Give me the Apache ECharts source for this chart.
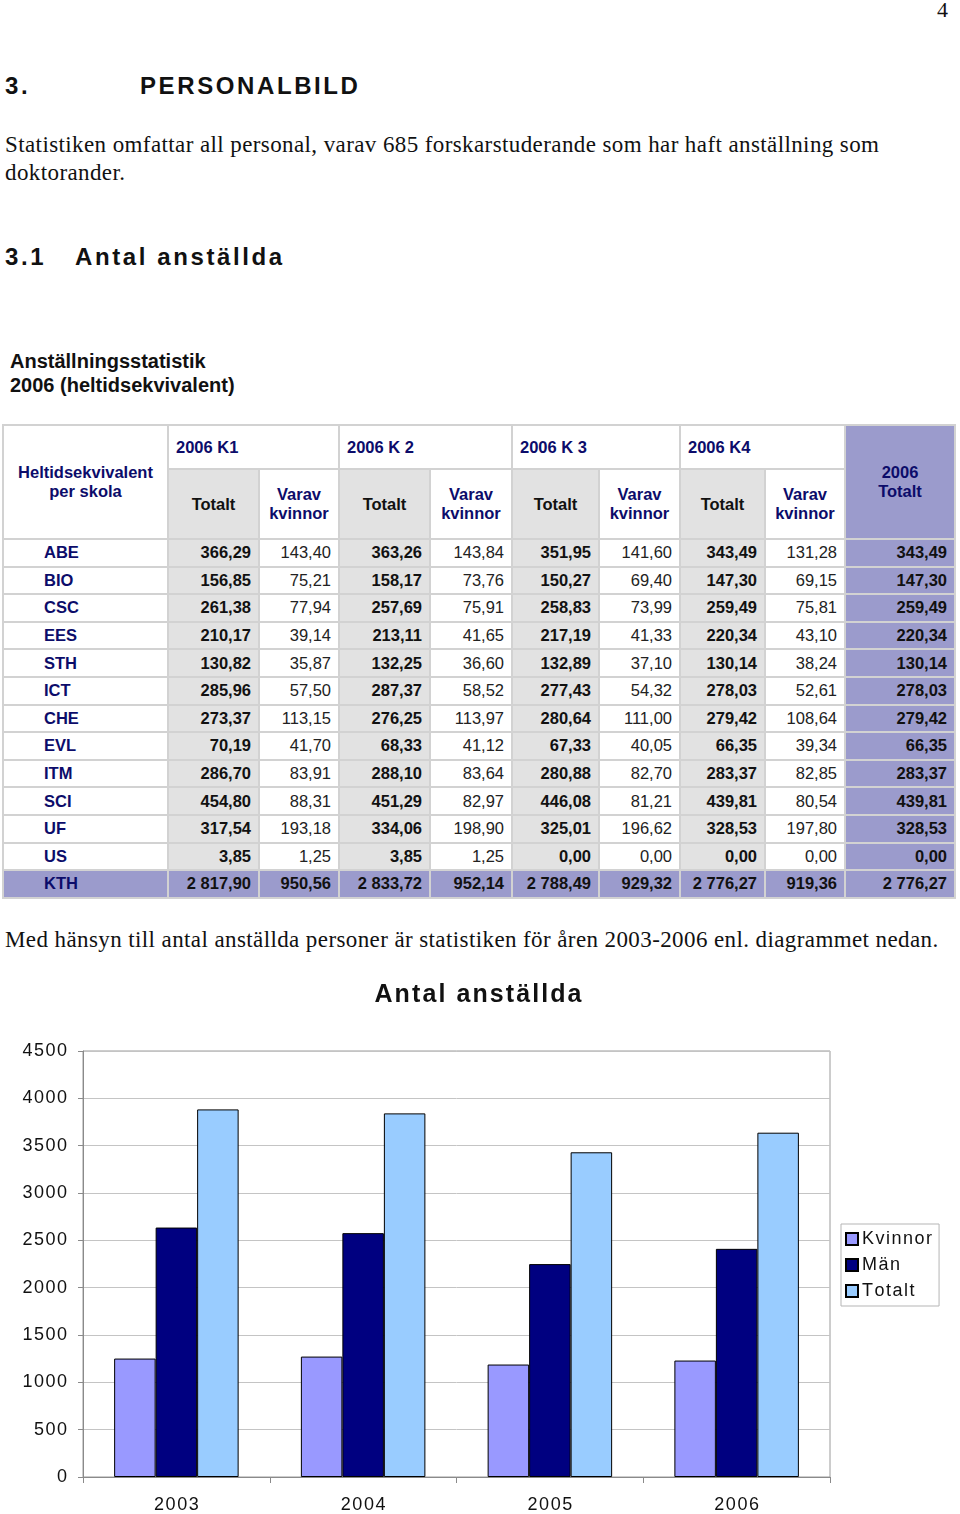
<!DOCTYPE html>
<html>
<head>
<meta charset="utf-8">
<script src="https://cdn.jsdelivr.net/npm/echarts@6/dist/echarts.min.js"></script>
<style>
  html, body { margin: 0; padding: 0; background: #fff; }
  body { width: 960px; height: 1514px; position: relative; overflow: hidden; }
  .abs { position: absolute; white-space: nowrap; }
  .serif { font-family: "Liberation Serif", "DejaVu Serif", serif; color: #111; }
  .body { font-size: 23px; letter-spacing: 0.4px; line-height: 28px; }
  .head { font-family: "Liberation Sans", Arial, sans-serif; font-weight: bold; color: #111; letter-spacing: 2.6px; }
  table { position: absolute; left: 2px; top: 424px; border-collapse: collapse; table-layout: fixed;
          font-family: "Liberation Sans", Arial, sans-serif; font-size: 16.5px; }
  td { border: 2px solid #d2d2d2; padding: 0 7px 0 7px; vertical-align: middle; overflow: hidden; }
  .nav { color: #0c0c6a; font-weight: bold; }
  .hc { text-align: center; line-height: 19px; }
  .g { background: #e2e2e2; }
  .p { background: #9b9bcc; }
  .num { text-align: right; color: #222; }
  .b { font-weight: bold; color: #111; }
  tr.d { height: 27.6px; }
</style>
</head>
<body>
<div class="abs serif" style="right:12px; top:-4px; font-size:22px; line-height:28px;">4</div>
<div class="abs head" style="left:5px; top:72px; font-size:24px; line-height:28px;">3.</div>
<div class="abs head" style="left:140px; top:72px; font-size:24px; line-height:28px;">PERSONALBILD</div>
<div class="abs serif body" style="left:5px; top:131px;">Statistiken omfattar all personal, varav 685 forskarstuderande som har haft anställning som<br>doktorander.</div>
<div class="abs head" style="left:5px; top:243px; font-size:24px; line-height:28px;">3.1</div>
<div class="abs head" style="left:75px; top:243px; font-size:24px; line-height:28px;">Antal anställda</div>
<div class="abs" style="left:10px; top:349px; font-family:'Liberation Sans',Arial,sans-serif; font-weight:bold; font-size:20px; line-height:24px; color:#111;">Anställningsstatistik<br>2006 (heltidsekvivalent)</div>

<table id="tbl"></table>

<div class="abs serif body" style="left:5px; top:926px;">Med hänsyn till antal anställda personer är statistiken för åren 2003-2006 enl. diagrammet nedan.</div>

<div id="chart" style="position:absolute; left:0; top:960px; width:960px; height:554px;"></div>

<script>
// ---- Table data ----
const schools    = ['ABE','BIO','CSC','EES','STH','ICT','CHE','EVL','ITM','SCI','UF','US','KTH'];
const quarters   = ['2006 K1','2006 K 2','2006 K 3','2006 K4'];
const k1Totalt   = [366.29,156.85,261.38,210.17,130.82,285.96,273.37,70.19,286.70,454.80,317.54,3.85,2817.90];
const k1Kvinnor  = [143.40,75.21,77.94,39.14,35.87,57.50,113.15,41.70,83.91,88.31,193.18,1.25,950.56];
const k2Totalt   = [363.26,158.17,257.69,213.11,132.25,287.37,276.25,68.33,288.10,451.29,334.06,3.85,2833.72];
const k2Kvinnor  = [143.84,73.76,75.91,41.65,36.60,58.52,113.97,41.12,83.64,82.97,198.90,1.25,952.14];
const k3Totalt   = [351.95,150.27,258.83,217.19,132.89,277.43,280.64,67.33,280.88,446.08,325.01,0.00,2788.49];
const k3Kvinnor  = [141.60,69.40,73.99,41.33,37.10,54.32,111.00,40.05,82.70,81.21,196.62,0.00,929.32];
const k4Totalt   = [343.49,147.30,259.49,220.34,130.14,278.03,279.42,66.35,283.37,439.81,328.53,0.00,2776.27];
const k4Kvinnor  = [131.28,69.15,75.81,43.10,38.24,52.61,108.64,39.34,82.85,80.54,197.80,0.00,919.36];
const totalt2006 = [343.49,147.30,259.49,220.34,130.14,278.03,279.42,66.35,283.37,439.81,328.53,0.00,2776.27];

// ---- Chart data ----
const years   = ['2003','2004','2005','2006'];
const kvinnor = [1251,1272,1188,1230];
const man     = [2635,2576,2249,2410];
const totalt  = [3883,3841,3430,3637];
const yTicks  = [0,500,1000,1500,2000,2500,3000,3500,4000,4500];

function fmt(v){
  const s = v.toFixed(2).split('.');
  const int = s[0].replace(/\B(?=(\d{3})+(?!\d))/g, ' ');
  return int + ',' + s[1];
}

(function buildTable(){
  const colW = [165,91,80,91,82,87,81,85,80,110];
  let h = '<colgroup>' + colW.map(w=>'<col style="width:'+w+'px">').join('') + '</colgroup>';
  h += '<tr style="height:44px">';
  h += '<td rowspan="2" class="nav hc">Heltidsekvivalent<br>per skola</td>';
  quarters.forEach(q => { h += '<td colspan="2" class="nav" style="padding-left:7px">'+q+'</td>'; });
  h += '<td rowspan="2" class="nav hc p">2006<br>Totalt</td></tr>';
  h += '<tr style="height:70px">';
  for (let i=0;i<4;i++){
    h += '<td class="g hc b">Totalt</td><td class="nav hc">Varav<br>kvinnor</td>';
  }
  h += '</tr>';
  const cols = [[k1Totalt,k1Kvinnor],[k2Totalt,k2Kvinnor],[k3Totalt,k3Kvinnor],[k4Totalt,k4Kvinnor]];
  schools.forEach((s,i) => {
    const last = i === schools.length-1;
    h += '<tr class="d">';
    h += '<td class="nav'+(last?' p':'')+'" style="padding-left:40px">'+s+'</td>';
    cols.forEach(([t,k]) => {
      h += '<td class="num b '+(last?'p':'g')+'">'+fmt(t[i])+'</td>';
      h += '<td class="num'+(last?' b p':'')+'">'+fmt(k[i])+'</td>';
    });
    h += '<td class="num b p">'+fmt(totalt2006[i])+'</td></tr>';
  });
  document.getElementById('tbl').innerHTML = h;
})();

const chart = echarts.init(document.getElementById('chart'), null, {renderer:'canvas'});
const font = '"Liberation Sans", Arial, sans-serif';
const hs = '\u200A';
chart.setOption({
  animation: false,
  textStyle: { fontFamily: font },
  title: {
    text: 'Antal anställda'.split('').join(hs),
    left: 473, top: 18, textAlign: 'center',
    textStyle: { fontFamily: font, fontWeight: 'bold', fontSize: 25, color: '#111' }
  },
  grid: { left: 83, right: 130, top: 91, bottom: 37, show: true, borderColor: '#9a9a9a', borderWidth: 1,
          containLabel: false, outerBoundsMode: 'none' },
  legend: {
    orient: 'vertical', left: 841, top: 264,
    data: ['Kvinnor','Män','Totalt'],
    itemWidth: 12, itemHeight: 12, itemGap: 8,
    borderColor: '#b5b5b5', borderWidth: 1, padding: [6, 7, 6, 4],
    textStyle: { fontFamily: font, fontSize: 18, color: '#111', padding: [0,0,0,-1] },
    formatter: n => n.split('').join(hs),
    icon: 'rect'
  },
  xAxis: {
    type: 'category', data: years,
    axisLine: { lineStyle: { color: '#8a8a8a', width: 1 } },
    axisTick: { show: true, length: 6, lineStyle: { color: '#8a8a8a' } },
    axisLabel: { fontSize: 18, color: '#111', margin: 19, fontFamily: font,
                 formatter: v => String(v).split('').join(hs) }
  },
  yAxis: {
    type: 'value', min: 0, max: yTicks[yTicks.length-1], interval: yTicks[1]-yTicks[0],
    axisLine: { show: true, lineStyle: { color: '#8a8a8a', width: 1 } },
    axisTick: { show: true, length: 5, lineStyle: { color: '#8a8a8a' } },
    axisLabel: { fontSize: 18, color: '#111', margin: 16, fontFamily: font,
                 formatter: v => String(v).split('').join(hs) },
    splitLine: { lineStyle: { color: '#c4c4c4', width: 1 } }
  },
  series: [
    { name: 'Kvinnor', type: 'bar', data: kvinnor, barWidth: 41.5, barGap: '0%',
      itemStyle: { color: '#9999ff', borderColor: '#000', borderWidth: 1 } },
    { name: 'Män', type: 'bar', data: man, barWidth: 41.5, barGap: '0%',
      itemStyle: { color: '#000080', borderColor: '#000', borderWidth: 1 } },
    { name: 'Totalt', type: 'bar', data: totalt, barWidth: 41.5, barGap: '0%',
      itemStyle: { color: '#99ccff', borderColor: '#000', borderWidth: 1 } }
  ]
});
</script>
</body>
</html>
